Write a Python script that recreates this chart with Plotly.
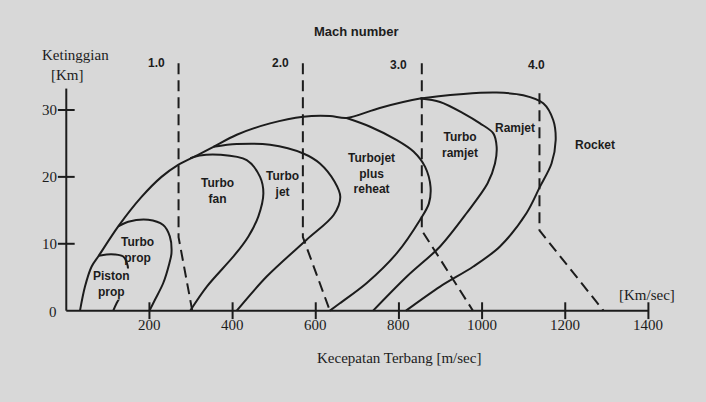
import plotly.graph_objects as go

# ---------------- data (speed m/s, altitude km) ----------------
# outer envelope: common low-speed boundary, then ramjet envelope
envelope_x = [33, 45, 61, 78, 125, 181, 229, 269, 317, 354, 410, 490, 570, 634, 674,
              754, 851, 955, 1035, 1099, 1147, 1171, 1177, 1167, 1139, 1107, 1043, 979, 899, 817]
envelope_y = [0, 3.6, 6.6, 8.2, 12.6, 17.0, 20.0, 21.8, 23.3, 24.5, 26.3, 28.0, 29.0, 29.1, 28.8,
              30.3, 31.7, 32.4, 32.6, 32.2, 31.0, 28.5, 25.5, 22.0, 18.5, 14.6, 9.6, 6.6, 3.6, 0]

piston_x = [78, 97, 117, 137, 145, 149, 147, 135, 121, 113]
piston_y = [8.2, 8.4, 8.4, 8.1, 7.3, 6.0, 4.4, 2.6, 1.1, 0]

turboprop_x = [125, 149, 197, 233, 249, 253, 248, 233, 213, 200]
turboprop_y = [12.6, 13.3, 13.6, 12.8, 11.1, 8.6, 7.1, 4.1, 1.6, 0]

turbofan_x = [298, 321, 370, 434, 466, 474, 462, 438, 406, 338, 298]
turbofan_y = [22.8, 23.2, 23.3, 22.5, 20.0, 17.5, 14.1, 11.1, 8.4, 3.6, 0]

turbojet_x = [354, 410, 490, 570, 610, 645, 659, 643, 578, 482, 410]
turbojet_y = [24.5, 24.9, 24.8, 23.5, 22.0, 19.3, 17.0, 14.3, 10.6, 5.1, 0]

reheat_x = [674, 731, 795, 835, 863, 876, 872, 851, 795, 722, 658, 634]
reheat_y = [28.8, 27.5, 25.5, 23.8, 21.5, 18.5, 16.0, 13.6, 8.6, 4.1, 1.1, 0]

turboramjet_x = [851, 899, 955, 995, 1027, 1035, 1031, 1013, 963, 899, 819, 738]
turboramjet_y = [31.7, 31.2, 29.5, 28.0, 26.5, 24.5, 22.0, 19.0, 14.6, 9.6, 5.1, 0]

# Mach number lines (dashed)
mach_labels = ["1.0", "2.0", "3.0", "4.0"]
mach_x = [[270, 270, 303], [569, 569, 634], [855, 855, 978], [1138, 1138, 1292]]
mach_y = [[37.0, 11.0, 0], [37.0, 11.0, 0], [37.0, 12.0, 0], [32.5, 12.0, 0]]

# axes
x_ticks = [200, 400, 600, 800, 1000, 1200, 1400]
y_ticks = [0, 10, 20, 30]
x_axis_max = 1400
y_axis_max = 33.2

# region labels: (text, speed, altitude, hide line behind)
region_labels = [
    ("Piston<br>prop", 109, 4.0, True),
    ("Turbo<br>prop", 171, 9.0, False),
    ("Turbo<br>fan", 364, 17.9, False),
    ("Turbo<br>jet", 521, 19.0, False),
    ("Turbojet<br>plus<br>reheat", 734, 20.5, False),
    ("Turbo<br>ramjet", 946, 24.8, False),
    ("Ramjet", 1079, 27.3, False),
    ("Rocket", 1272, 24.8, False),
]
mach_label_pos = [(216, 37.0), (516, 37.0), (798, 36.7), (1132, 36.7)]

# ---------------- styling ----------------
BG = "#d8d8d8"
INK = "#1c1c1c"
LW = 2.0
SERIF = "Liberation Serif, Times New Roman, serif"
SANS = "Liberation Sans, Arial, sans-serif"

fig = go.Figure()

def curve(xs, ys):
    fig.add_trace(go.Scatter(x=xs, y=ys, mode="lines",
                             line=dict(color=INK, width=LW, shape="spline", smoothing=0.9),
                             hoverinfo="skip", showlegend=False))

for xs, ys in [(envelope_x, envelope_y), (piston_x, piston_y), (turboprop_x, turboprop_y),
               (turbofan_x, turbofan_y), (turbojet_x, turbojet_y), (reheat_x, reheat_y),
               (turboramjet_x, turboramjet_y)]:
    curve(xs, ys)

for xs, ys in zip(mach_x, mach_y):
    fig.add_trace(go.Scatter(x=xs, y=ys, mode="lines",
                             line=dict(color=INK, width=LW, dash="11px,6px"),
                             hoverinfo="skip", showlegend=False))

# axis lines
fig.add_trace(go.Scatter(x=[0, x_axis_max, None, 0, 0], y=[0, 0, None, 0, y_axis_max],
                         mode="lines", line=dict(color=INK, width=LW),
                         hoverinfo="skip", showlegend=False))
# crossing tick marks
fig.add_trace(go.Scatter(x=x_ticks, y=[0] * len(x_ticks), mode="markers",
                         marker=dict(symbol="line-ns", size=12, line=dict(color=INK, width=LW)),
                         cliponaxis=False, hoverinfo="skip", showlegend=False))
fig.add_trace(go.Scatter(x=[0] * (len(y_ticks) - 1), y=y_ticks[1:], mode="markers",
                         marker=dict(symbol="line-ew", size=12, line=dict(color=INK, width=LW)),
                         cliponaxis=False, hoverinfo="skip", showlegend=False))

ann = []
for v in x_ticks:
    ann.append(dict(x=v, y=0, xref="x", yref="y", text=str(v), showarrow=False,
                    yshift=-14, font=dict(family=SERIF, size=15, color=INK)))
for v in y_ticks:
    ann.append(dict(x=0, y=v, xref="x", yref="y", text=str(v), showarrow=False,
                    xanchor="right", xshift=-7, yshift=-1 if v == 0 else 0,
                    font=dict(family=SERIF, size=15, color=INK)))
for (t, x, y, hide) in region_labels:
    d = dict(x=x, y=y, xref="x", yref="y", text=t, showarrow=False,
             font=dict(family=SANS, size=12, color=INK, weight="bold"))
    if hide:
        d.update(bgcolor=BG, borderpad=0)
    ann.append(d)
for t, (x, y) in zip(mach_labels, mach_label_pos):
    ann.append(dict(x=x, y=y, xref="x", yref="y", text=t, showarrow=False,
                    font=dict(family=SANS, size=12, color=INK, weight="bold")))
ann.append(dict(x=697, y=41.7, xref="x", yref="y", text="Mach number", showarrow=False,
                font=dict(family=SANS, size=13, color=INK, weight="bold")))
ann.append(dict(x=23, y=38.2, xref="x", yref="y", text="Ketinggian", showarrow=False,
                font=dict(family=SERIF, size=15, color=INK)))
ann.append(dict(x=4, y=35.2, xref="x", yref="y", text="[Km]", showarrow=False,
                font=dict(family=SERIF, size=15, color=INK)))
ann.append(dict(x=1397, y=2.35, xref="x", yref="y", text="[Km/sec]", showarrow=False,
                font=dict(family=SERIF, size=15, color=INK)))
ann.append(dict(x=800, y=-7.1, xref="x", yref="y", text="Kecepatan Terbang [m/sec]", showarrow=False,
                font=dict(family=SERIF, size=15, color=INK)))

fig.update_layout(
    width=706, height=402,
    margin=dict(l=0, r=0, t=0, b=0),
    paper_bgcolor=BG, plot_bgcolor=BG,
    xaxis=dict(range=[-159.4, 1538.5], visible=False, fixedrange=True),
    yaxis=dict(range=[-13.65, 46.44], visible=False, fixedrange=True),
    annotations=ann,
    showlegend=False,
)

fig.write_html("out.html")
